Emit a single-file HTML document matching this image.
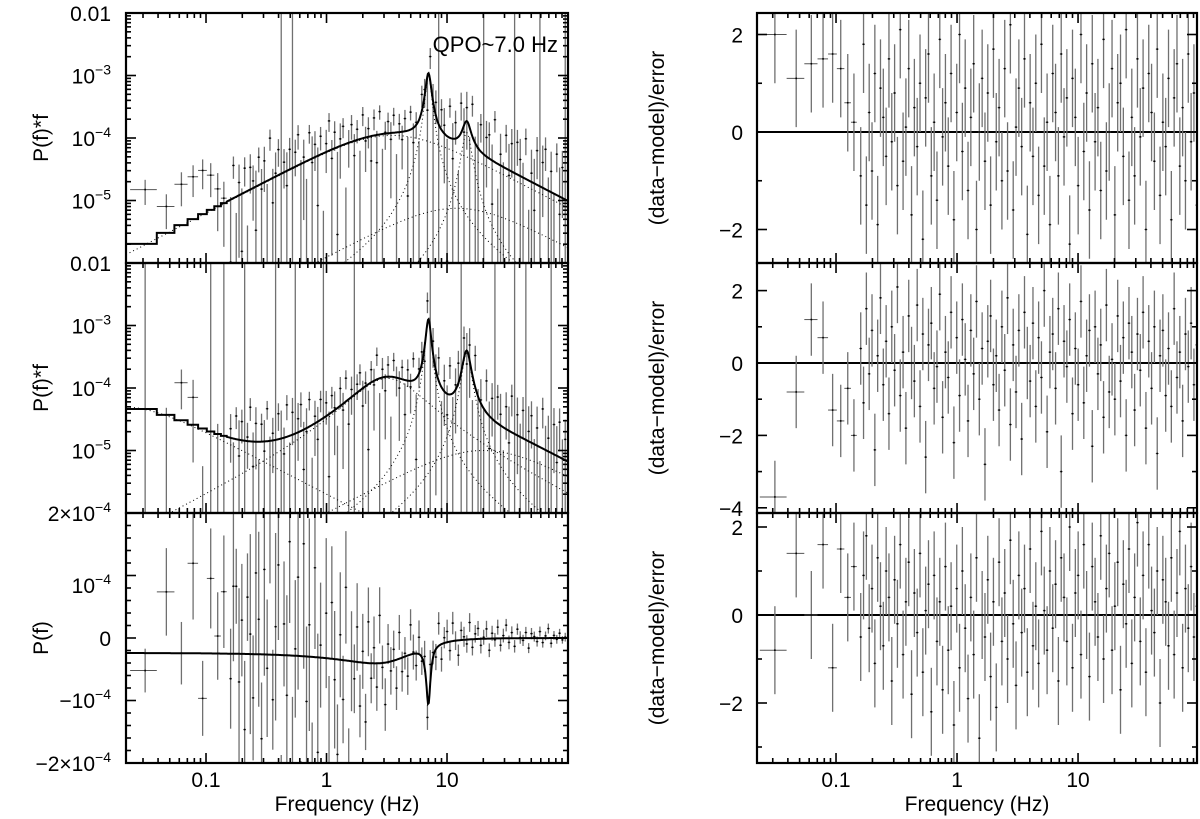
<!DOCTYPE html>
<html><head><meta charset="utf-8">
<style>
html,body{margin:0;padding:0;background:#fff;overflow:hidden;width:1200px;height:819px;}
svg{display:block;font-family:"Liberation Sans",Arial,sans-serif;}
</style></head>
<body>
<svg id="chart" width="1200" height="819" viewBox="0 0 1200 819" xmlns="http://www.w3.org/2000/svg">
<defs>
<clipPath id="cL1"><rect x="126" y="13" width="442" height="250"/></clipPath>
<clipPath id="cL2"><rect x="126" y="263" width="442" height="250"/></clipPath>
<clipPath id="cL3"><rect x="126" y="513" width="442" height="250"/></clipPath>
<clipPath id="cR1"><rect x="757" y="13" width="440" height="250"/></clipPath>
<clipPath id="cR2"><rect x="757" y="263" width="440" height="250"/></clipPath>
<clipPath id="cR3"><rect x="757" y="513" width="440" height="250"/></clipPath>
</defs>
<g id="layer"></g>
<text x="558" y="52" font-size="22" text-anchor="end">QPO~7.0 Hz</text>
<text transform="translate(48,138) rotate(-90)" font-size="21" text-anchor="middle">P(f)*f</text>
<text transform="translate(48,388) rotate(-90)" font-size="21" text-anchor="middle">P(f)*f</text>
<text transform="translate(48,638) rotate(-90)" font-size="21" text-anchor="middle">P(f)</text>
<text transform="translate(664,138) rotate(-90)" font-size="21" text-anchor="middle">(data−model)/error</text>
<text transform="translate(664,388) rotate(-90)" font-size="21" text-anchor="middle">(data−model)/error</text>
<text transform="translate(664,638) rotate(-90)" font-size="21" text-anchor="middle">(data−model)/error</text>
<text x="347" y="811" font-size="21" text-anchor="middle">Frequency (Hz)</text>
<text x="977" y="811" font-size="21" text-anchor="middle">Frequency (Hz)</text>
</svg>
<script>
// ---- data ----
const resTop = [2.0,1.1,1.4,1.5,1.6,1.3,0.6,0.2,
-0.9,1.8,-1.5,0.4,-0.8,1.2,-1.9,0.9,0.3,-0.5,
1.5,-0.2,0.8,-1.1,2.1,-0.6,0.1,1.3,-1.7,0.5,
-0.3,1.0,-2.2,0.7,1.6,-0.9,0.2,-1.4,1.9,-0.1,
0.6,-0.7,1.2,-1.8,0.4,2.0,-0.4,0.9,-1.2,0.3,
1.4,-2.0,0.0,1.1,-0.6,0.8,-1.5,1.7,-0.2,0.5,
-1.0,1.3,-0.8,2.2,-1.6,0.1,0.9,-0.3,1.5,-2.1,
0.6,-0.5,1.0,-1.3,1.8,-0.7,0.2,-1.9,1.2,0.4,
-0.9,1.6,-0.1,0.7,-2.3,1.1,0.3,-1.1,2.0,-0.4,
0.8,-1.6,1.4,-0.2,0.5,-1.2,1.9,-0.8,0.0,1.3,
-1.7,0.6,1.0,-0.5,2.1,-1.4,0.3,-0.9,1.5,-0.1,
0.9,-2.0,1.2,0.4,-0.6,1.7,-1.3,0.2,-0.3,1.1,
-1.8,0.7,1.4,-0.7,0.5,-1.0,1.6,-0.2,0.8,-1.5];
const resMid = [-3.7,-0.8,1.2,0.7,-1.3,-1.6,-0.7,-2.0,
0.4,-1.1,1.5,-0.3,0.9,-2.4,0.2,1.8,-0.6,0.6,
-1.4,1.0,-0.2,2.1,-0.9,0.3,-1.8,1.3,0.0,-0.5,
1.6,-1.2,0.8,-2.6,0.5,1.1,-0.7,-0.1,1.9,-1.5,
0.3,-0.4,1.4,-2.2,0.7,-0.9,1.2,0.1,-1.6,0.9,
-0.3,1.7,-1.0,0.4,-2.8,0.6,1.3,-0.6,0.2,-1.3,
1.0,-0.2,1.8,-1.7,0.5,-0.8,0.9,-2.1,1.4,0.0,
-0.5,1.1,-1.2,0.7,-0.4,2.0,-1.9,0.3,0.8,-0.7,
1.5,-3.0,0.6,-0.1,1.2,-1.4,0.4,-0.6,1.7,-1.1,
0.2,0.9,-2.3,1.0,-0.3,0.5,-1.5,1.6,-0.8,0.1,
-1.0,1.3,-0.5,0.7,-2.0,1.1,0.3,-1.3,0.8,-0.2,
1.4,-1.8,0.6,-0.7,1.0,-2.5,0.2,0.9,-0.9,0.4,
-1.2,1.5,-0.4,0.3,-1.6,0.8,-0.1,1.1,-0.6,0.5];
const resBot = [-0.8,1.4,0.0,1.6,-1.2,1.5,0.4,1.1,
-0.5,0.9,1.8,-0.3,0.6,-1.1,1.3,0.2,-0.7,1.0,
0.4,-1.5,0.8,-0.2,1.6,-0.9,0.3,1.2,-1.8,0.5,
-0.4,1.4,-1.3,0.1,0.7,-2.2,0.9,-0.6,0.3,-1.7,
1.1,-0.8,0.2,-2.5,0.6,-1.2,1.0,-0.3,-1.9,0.4,
-0.9,1.3,-2.8,0.0,-0.5,0.8,-1.4,0.3,-2.1,1.2,
-0.6,0.5,-1.0,1.7,-0.2,-1.6,0.9,-0.4,0.6,-1.3,
1.5,-0.7,0.2,-1.1,1.9,0.1,-0.8,1.0,-0.3,0.7,
-1.5,1.3,0.4,-0.6,2.0,-1.2,0.5,0.9,-0.9,1.6,
0.0,-1.4,1.1,0.3,-0.5,1.8,-1.0,0.6,1.4,-0.8,
0.2,1.2,-1.7,0.7,-0.2,1.5,-1.1,0.4,2.1,-0.6,
0.9,-1.3,1.6,0.1,-0.4,1.0,-2.0,0.8,0.3,-0.7,
1.3,-0.9,0.5,1.9,-1.2,0.6,-0.3,1.1,-0.5,0.2];
const relErr = [3.2,1.5,2.5,2.5,2.5,2.0,1.5,1.0,
1.0,1.3,0.9,1.5,1.1,1.2,0.8,1.4,1.0,1.6,
1.2,0.9,1.5,1.1,1.7,1.0,1.3,1.2,1.8,0.9,
1.4,1.1,1.6,1.0,1.3,1.5,1.1,1.2,0.9,1.4,
1.0,1.2,0.8,1.1,0.9,1.0,0.7,0.9,0.8,1.0,
0.7,0.8,0.6,0.8,0.7,0.6,0.7,0.8,0.6,0.7,
0.6,0.7,0.8,0.6,0.7,0.5,0.6,0.7,0.6,0.5,
0.6,0.5,0.6,0.7,0.5,0.6,0.5,0.6,0.7,0.6,
0.8,0.9,1.0,0.9,1.1,1.0,1.2,0.9,1.1,1.3,
1.0,1.2,1.4,1.1,1.3,1.5,1.2,1.4,1.6,1.3,
1.5,1.7,1.4,1.6,1.8,1.5,1.7,1.9,1.6,1.8,
2.0,1.7,1.9,2.1,1.8,2.0,2.2,1.9,2.1,2.3,
2.0,2.2,2.4,2.1,2.3,2.5,2.2,2.4,2.6,2.3];
const absErr = [0.35,0.7,0.5,0.9,0.6,0.8,0.7,0.9,
0.8,1.2,0.6,1.5,0.9,1.1,0.7,1.6,1.0,1.3,
1.4,0.9,1.7,1.1,1.9,0.8,1.5,1.2,2.0,1.0,
1.6,1.3,2.2,1.1,1.8,1.4,2.0,1.2,1.7,1.5,
1.3,1.9,1.0,1.6,1.2,1.4,0.9,1.1,0.8,1.0,
0.7,0.9,0.6,0.8,0.55,0.7,0.5,0.6,0.45,0.55,
0.4,0.5,0.38,0.45,0.35,0.42,0.32,0.38,0.3,0.35,
0.28,0.32,0.26,0.3,0.25,0.28,0.24,0.27,0.22,0.25,
0.2,0.23,0.19,0.21,0.18,0.2,0.17,0.19,0.16,0.18,
0.15,0.17,0.14,0.16,0.14,0.15,0.13,0.14,0.12,0.13,
0.12,0.13,0.11,0.12,0.11,0.12,0.1,0.11,0.1,0.11,
0.1,0.1,0.09,0.1,0.09,0.09,0.08,0.09,0.08,0.08,
0.08,0.08,0.07,0.08,0.07,0.07,0.07,0.07,0.06,0.07];
// Lorentzian model components (nu*P form for top/mid, P form for bottom)
const topF0 = [0, 7.0, 14.5, 0];
const topWidth = [3.5, 0.4, 1.3, 12];
const topNorm = [2.2e-4, 5.7e-5, 1.1e-5, 1.5e-5];
const midF0 = [0, 2.5, 7.0, 14.5, 0];
const midWidth = [0.02, 2.0, 0.35, 1.2, 20];
const midNorm = [1.0e-4, 1.0e-4, 6.0e-5, 3.0e-5, 2.0e-5];
const botF0 = [2.5, 7.0];
const botWidth = [3.0, 0.35];
const botNorm = [-1.2e-4, -3.3e-5];
const xTicksMajor = [0.1, 1, 10];
const xTickLabels = ["0.1", "1", "10"];

// ---- layout ----
const svg = document.getElementById('layer');
const NS = 'http://www.w3.org/2000/svg';
function mk(tag, attrs, parent){const e=document.createElementNS(NS,tag);for(const k in attrs)e.setAttribute(k,attrs[k]);(parent||svg).appendChild(e);return e;}
const L = {x0:126, x1:568, lf0:-1.664, lf1:2.004};
const R = {x0:757, x1:1197, lf0:-1.653, lf1:1.983};
const rows = [[13,263],[263,513],[513,763]];
function fx(P,f){return P.x0+(Math.log10(f)-P.lf0)/(P.lf1-P.lf0)*(P.x1-P.x0);}
function fyLog(row,v){return rows[row][0]+(-2-Math.log10(v))/4*250;}
function fyLin(v){return 638-v/1e-4*62.5;}
const rLin = [{zero:132,unit:48.75},{zero:363,unit:36.2},{zero:615,unit:44}];
function fyRes(row,v){return rLin[row].zero-v*rLin[row].unit;}

const N = 128;
const freqs=[], halfW=[];
for(let k=2;k<=9;k++){freqs.push(k*0.015625);halfW.push(0.0078);}
for(let i=0;i<N-8;i++){const f=0.16*Math.pow(1.0552,i);freqs.push(f);halfW.push(f*0.026);}

function nuP(f,F0,W,A){let s=0;for(let i=0;i<F0.length;i++)s+=A[i]*f*W[i]/(W[i]*W[i]+(f-F0[i])*(f-F0[i]));return s;}
function comp(f,F0,W,A,i){return A[i]*f*W[i]/(W[i]*W[i]+(f-F0[i])*(f-F0[i]));}
function Pf(f){let s=0;for(let i=0;i<botF0.length;i++)s+=botNorm[i]*botWidth[i]/(botWidth[i]*botWidth[i]+(f-botF0[i])*(f-botF0[i]));return s;}

const gL=[0,1,2].map(i=>mk('g',{'clip-path':'url(#cL'+(i+1)+')'}));
const gR=[0,1,2].map(i=>mk('g',{'clip-path':'url(#cR'+(i+1)+')'}));

function errbar(g,x0,x1,xc,ya,yb,yc,showPt){
  const v=mk('line',{x1:xc,x2:xc,y1:ya,y2:yb,stroke:'#707070','stroke-width':1.3},g);
  
  
  if(showPt){
    const h=mk('line',{x1:x0,x2:x1,y1:yc,y2:yc,stroke:'#555','stroke-width':1},g);
    
    
    const p=mk('rect',{x:xc-0.8,y:yc-0.8,width:1.6,height:1.6,fill:'#000'},g);
    
    
  }
}

const logSets=[{res:resTop,F0:topF0,W:topWidth,A:topNorm},{res:resMid,F0:midF0,W:midWidth,A:midNorm}];
logSets.forEach((S,row)=>{
  for(let i=0;i<Math.min(N,S.res.length,relErr.length);i++){
    const f=freqs[i], m=nuP(f,S.F0,S.W,S.A), e=relErr[i]*m, v=m+S.res[i]*e;
    const top=v+e, bot=v-e;
    const ya=fyLog(row,top), yb=bot>0?fyLog(row,bot):rows[row][1]+5;
    const xc=fx(L,f);
    errbar(gL[row],fx(L,f-halfW[i]),fx(L,f+halfW[i]),xc,ya,yb,v>0?fyLog(row,v):0,v>0);
  }
  for(let c=0;c<S.F0.length;c++){
    let d='';
    for(let k=0;k<=400;k++){const f=Math.pow(10,L.lf0+(L.lf1-L.lf0)*k/400);const y=fyLog(row,Math.max(comp(f,S.F0,S.W,S.A,c),1e-9));d+=(k?'L':'M')+fx(L,f).toFixed(1)+','+y.toFixed(1);}
    const p=mk('path',{d:d,fill:'none',stroke:'#000','stroke-width':1,'stroke-dasharray':'1,3'},gL[row]);
    
    
  }
  let d='M'+L.x0+','+fyLog(row,nuP(freqs[0],S.F0,S.W,S.A)).toFixed(1);
  for(let i=0;i<8;i++){const y=fyLog(row,nuP(freqs[i],S.F0,S.W,S.A));d+='L'+fx(L,freqs[i]-halfW[i]).toFixed(1)+','+y.toFixed(1)+'L'+fx(L,freqs[i]+halfW[i]).toFixed(1)+','+y.toFixed(1);}
  const fs=freqs[7]+halfW[7];
  for(let k=0;k<=500;k++){const f=fs*Math.pow(110/fs,k/500);d+='L'+fx(L,f).toFixed(1)+','+fyLog(row,nuP(f,S.F0,S.W,S.A)).toFixed(1);}
  const mp=mk('path',{d:d,fill:'none',stroke:'#000','stroke-width':2},gL[row]);
  
  
});
for(let i=0;i<Math.min(N,resBot.length,absErr.length);i++){
  const f=freqs[i], m=Pf(f), e=absErr[i]*1e-4, v=m+resBot[i]*e;
  errbar(gL[2],fx(L,f-halfW[i]),fx(L,f+halfW[i]),fx(L,f),fyLin(v+e),fyLin(v-e),fyLin(v),true);
}
{let d='';for(let k=0;k<=600;k++){const f=Math.pow(10,L.lf0+(L.lf1-L.lf0)*k/600);d+=(k?'L':'M')+fx(L,f).toFixed(1)+','+fyLin(Pf(f)).toFixed(1);}
 const p=mk('path',{d:d,fill:'none',stroke:'#000','stroke-width':2},gL[2]);
 
 }
[resTop,resMid,resBot].forEach((res,row)=>{
  const z=mk('line',{x1:R.x0,x2:R.x1,y1:fyRes(row,0),y2:fyRes(row,0),stroke:'#000','stroke-width':2},gR[row]);
  
  
  for(let i=0;i<Math.min(N,res.length);i++){
    const f=freqs[i];
    errbar(gR[row],fx(R,f-halfW[i]),fx(R,f+halfW[i]),fx(R,f),fyRes(row,res[i]+1),fyRes(row,res[i]-1),fyRes(row,res[i]),true);
  }
});

// ---- axes ----
function line(x1,y1,x2,y2,w,name){const l=mk('line',{x1:x1,y1:y1,x2:x2,y2:y2,stroke:'#000','stroke-width':w});
  
  return l;}
function text(x,y,str,sup,name,anchor){
  const t=mk('text',{x:x,y:y,'font-size':21,'text-anchor':anchor||'end'});
  
  
  t.appendChild(document.createTextNode(str));
  if(sup){const s=mk('tspan',{'font-size':14,dy:-9},t);s.textContent=sup;}
  return t;}
[L,R].forEach((P,pi)=>{
  rows.forEach((r,ri)=>{
    const fr=mk('rect',{x:P.x0,y:r[0],width:P.x1-P.x0,height:r[1]-r[0],fill:'none',stroke:'#000','stroke-width':2.2});
    
    
    for(let e=-2;e<=2;e++)for(let m=1;m<=9;m++){const f=m*Math.pow(10,e);const x=fx(P,f);if(x<P.x0+1||x>P.x1-1)continue;
      const len=m===1?10:5;line(x,r[1],x,r[1]-len,1.6,'x-tick');line(x,r[0],x,r[0]+len,1.6,'x-tick');}
    if(pi===0&&ri<2){for(let e=-6;e<-2;e++)for(let m=1;m<=9;m++){const v=m*Math.pow(10,e);const y=fyLog(ri,v);if(y<r[0]+1||y>r[1]-1)continue;const len=m===1?10:5;line(P.x0,y,P.x0+len,y,1.6,'y-tick');line(P.x1,y,P.x1-len,y,1.6,'y-tick');}}
    else if(pi===0){for(let k=-10;k<=10;k++){const v=k*2e-5;const y=fyLin(v);if(y<r[0]+1||y>r[1]-1)continue;const len=k%5===0?10:5;line(P.x0,y,P.x0+len,y,1.6,'y-tick');line(P.x1,y,P.x1-len,y,1.6,'y-tick');}}
    else{for(let k=-5;k<=3;k++){const y=fyRes(ri,k);if(y<r[0]+1||y>r[1]-1)continue;const len=k%2===0?10:5;line(P.x0,y,P.x0+len,y,1.6,'y-tick');line(P.x1,y,P.x1-len,y,1.6,'y-tick');}}
  });
  xTicksMajor.forEach((f,i)=>text(fx(P,f),787,xTickLabels[i],null,'x-tick-label','middle'));
});
[0,1].forEach(ri=>{
  text(111,rows[ri][0]+8,'0.01',null,'y-tick-label');
  [-3,-4,-5].forEach(e=>text(111,fyLog(ri,Math.pow(10,e))+8,'10','−'+(-e),'y-tick-label'));
});
text(111,521,'2×10','−4','y-tick-label');
text(111,593,'10','−4','y-tick-label');
text(111,646,'0',null,'y-tick-label');
text(111,708,'−10','−4','y-tick-label');
text(111,771,'−2×10','−4','y-tick-label');
[[0,[2,0,-2]],[1,[2,0,-2,-4]],[2,[2,0,-2]]].forEach(([ri,vals])=>vals.forEach(v=>text(743,fyRes(ri,v)+8,v<0?'−'+(-v):String(v),null,'y-tick-label')));
</script>
</body></html>
